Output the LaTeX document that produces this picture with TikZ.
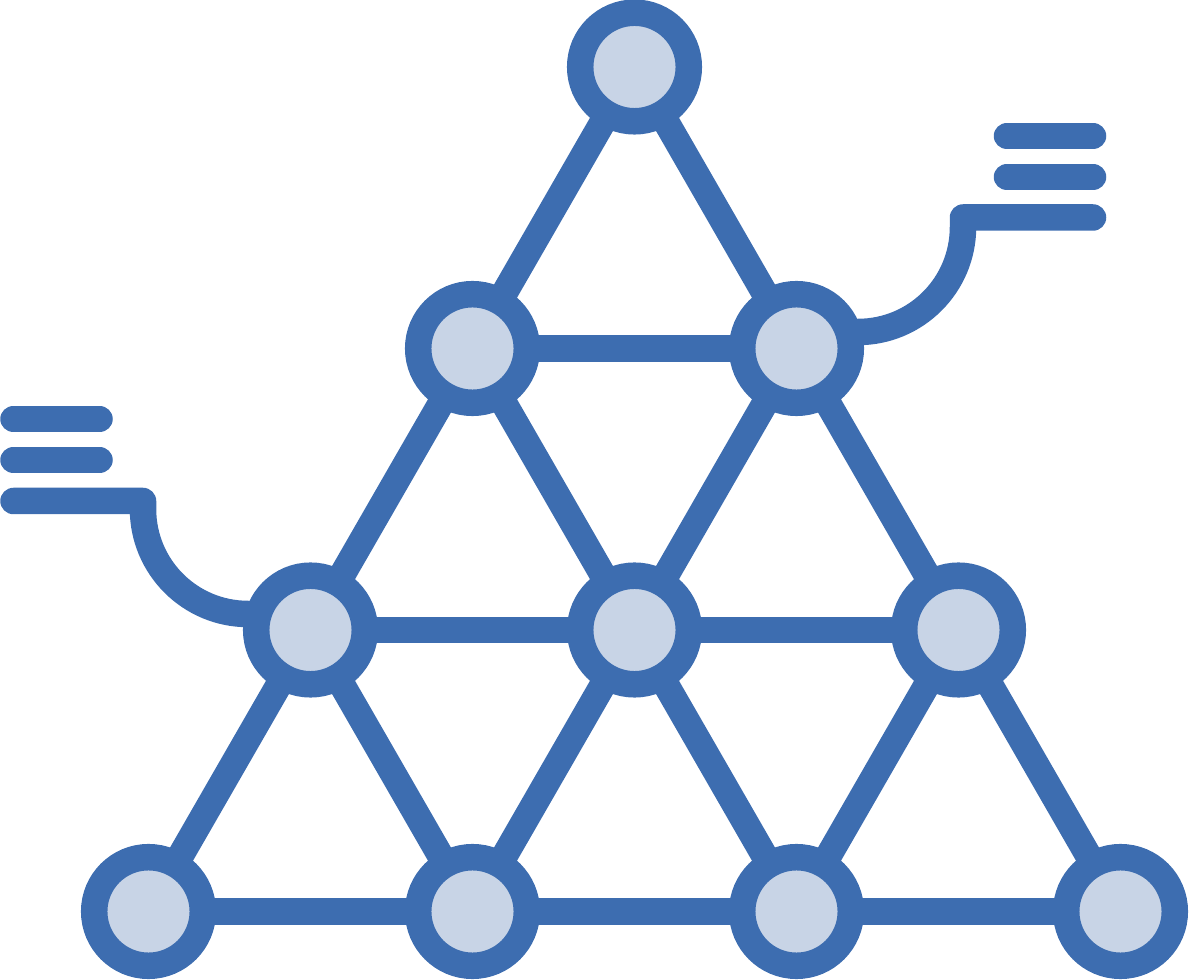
\documentclass[tikz,border=0pt]{standalone}
\pgfdeclarelayer{background}
\pgfsetlayers{background,main}
\definecolor{iconblue}{RGB}{61,109,176}
\definecolor{iconfill}{RGB}{200,212,230}
\begin{document}
\begin{tikzpicture}[x=1pt,y=1pt,
  dot/.style={circle,draw=iconblue,fill=iconfill,line width=26.5pt,minimum size=108.6pt,inner sep=0pt},
  link/.style={draw=iconblue,line width=26.5pt},
  bar/.style={draw=iconblue,line width=26.5pt,line cap=round,line join=round}]
\useasboundingbox (0,0) rectangle (1189,980);
% nodes
\node[dot] (a)  at (634.5,913) {};
\node[dot] (b1) at (472.5,631.5) {};
\node[dot] (b2) at (796.5,631.5) {};
\node[dot] (c1) at (310.5,350) {};
\node[dot] (c2) at (634.5,350) {};
\node[dot] (c3) at (958.5,350) {};
\node[dot] (d1) at (148.5,68.5) {};
\node[dot] (d2) at (472.5,68.5) {};
\node[dot] (d3) at (796.5,68.5) {};
\node[dot] (d4) at (1120.5,68.5) {};
\coordinate (lend) at (248,366);
\coordinate (rend) at (858,648);
\begin{pgfonlayer}{background}
% lattice edges
\draw[link] (a.center) -- (b1.center);
\draw[link] (a.center) -- (b2.center);
\draw[link] (b1.center) -- (b2.center);
\draw[link] (b1.center) -- (c1.center);
\draw[link] (b1.center) -- (c2.center);
\draw[link] (b2.center) -- (c2.center);
\draw[link] (b2.center) -- (c3.center);
\draw[link] (c1.center) -- (c2.center);
\draw[link] (c2.center) -- (c3.center);
\draw[link] (c1.center) -- (d1.center);
\draw[link] (c1.center) -- (d2.center);
\draw[link] (c2.center) -- (d2.center);
\draw[link] (c2.center) -- (d3.center);
\draw[link] (c3.center) -- (d3.center);
\draw[link] (c3.center) -- (d4.center);
\draw[link] (d1.center) -- (d2.center);
\draw[link] (d2.center) -- (d3.center);
\draw[link] (d3.center) -- (d4.center);
% left legend
\draw[bar] (13.5,561) -- (99.5,561);
\draw[bar] (13.5,520) -- (99.5,520);
\draw[bar] (13.5,479) -- (143,479) -- (143,471) arc[start angle=180,end angle=270,radius=105] -- (lend);
% right legend
\draw[bar] (1007,844) -- (1093,844);
\draw[bar] (1007,803) -- (1093,803);
\draw[bar] (1093,762.5) -- (963,762.5) -- (963,753) arc[start angle=0,end angle=-90,radius=105] -- (rend);
\end{pgfonlayer}
\end{tikzpicture}
\end{document}
